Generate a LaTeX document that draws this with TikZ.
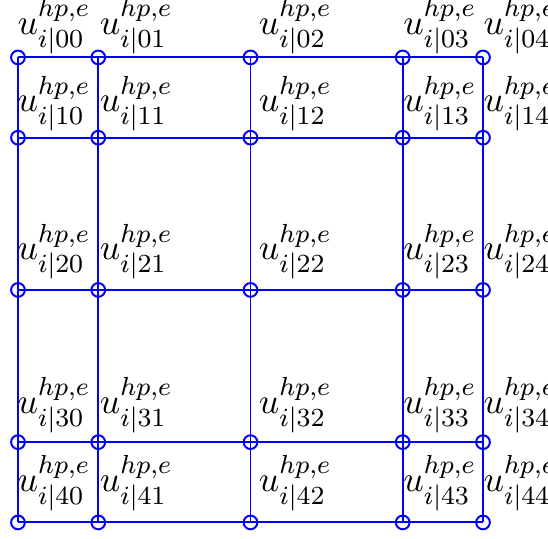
\documentclass[tikz,border=0pt]{standalone}
\usepackage{amsmath}
\usetikzlibrary{calc}

\begin{document}
\begin{tikzpicture}[
    x=2.5cm, y=2.5cm,
    gridline/.style={draw=blue, line width=0.6pt},
    node pt/.style={
        circle, draw=blue, line width=0.6pt,
        minimum size=4.2pt, inner sep=0pt
    },
    ulabel/.style={anchor=south west, inner sep=0pt,
        font=\fontsize{10.95}{13}\selectfont}
]
\useasboundingbox (-1.0774,-1.071) rectangle (1.2796,1.247);

% Gauss-Lobatto points of degree 4 in each direction.
\foreach \i/\y in {0/1,1/0.6547,2/0,3/-0.6547,4/-1} {
    \foreach \j/\x in {0/-1,1/-0.6547,2/0,3/0.6547,4/1} {
        \coordinate (c\i\j) at (\x,\y);
    }
}

% Grid lines through the nodes.
\foreach \k in {0,...,4} {
    \draw[gridline] (c\k0) -- (c\k4);
    \draw[gridline] (c0\k) -- (c4\k);
}

% Nodes and their values.
\foreach \i/\dy in {0/0.9,1/1.8,2/3.0,3/2.7,4/3.4} {
    \foreach \j/\dx in {0/-0.3,1/0.3,2/2.4,3/0,4/0} {
        \node[node pt] (p\i\j) at (c\i\j) {};
        \node[ulabel] (u\i\j) at ($(c\i\j)+(\dx pt,\dy pt)$)
            {$u^{hp,e}_{i|\i\j}$};
    }
}

\end{tikzpicture}
\end{document}
